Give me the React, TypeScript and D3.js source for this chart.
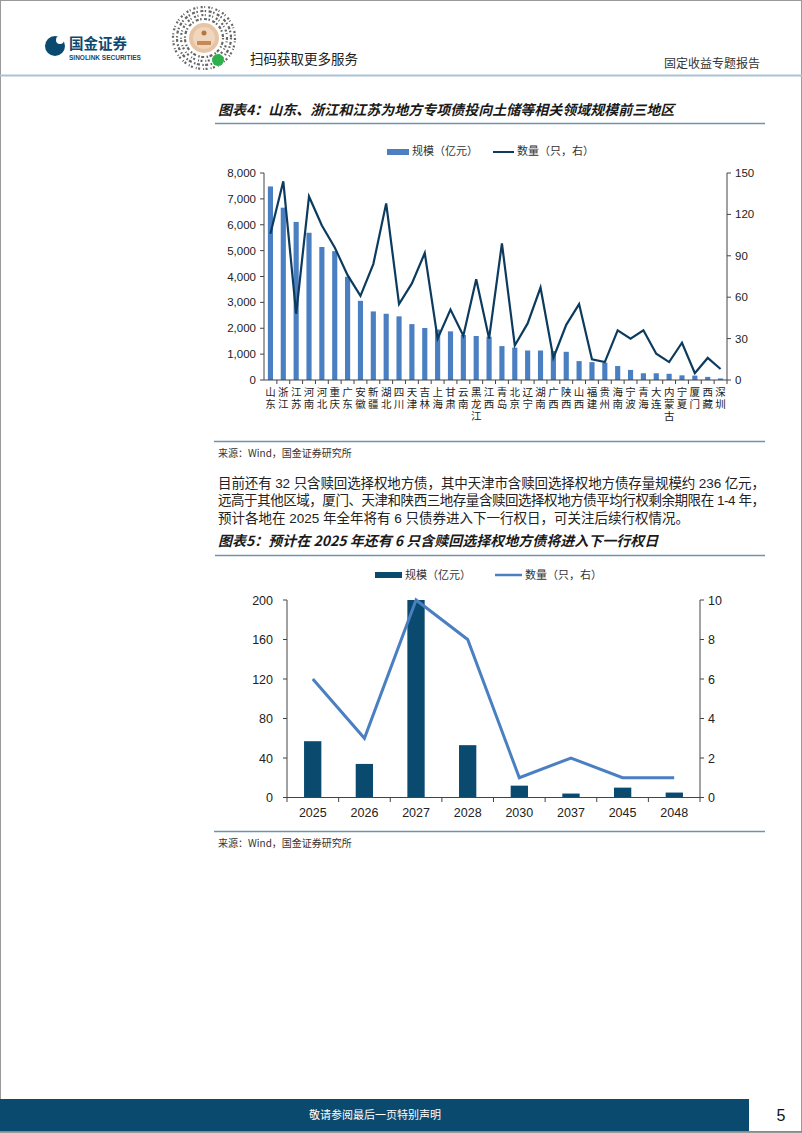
import React from "react";
import * as d3 from "d3";

const regions = ["山东","浙江","江苏","河南","河北","重庆","广东","安徽","新疆","湖北","四川","天津","吉林","上海","甘肃","云南","黑龙江","江西","青岛","北京","辽宁","湖南","广西","陕西","山西","福建","贵州","海南","宁波","青海","大连","内蒙古","宁夏","厦门","西藏","深圳"];
const scale1 = [7480,6660,6110,5690,5140,4980,3990,3060,2650,2560,2460,2160,2010,1950,1880,1740,1700,1670,1310,1250,1140,1140,1120,1090,730,690,670,540,390,260,260,240,180,170,120,60];
const count1 = [106,144,48,133,112,96,76,61,84,128,55,70,92,30,51,32,73,30,99,25,41,67,16,40,55,15,13,36,30,36,19,13,27,5,16,8];
const leftTicks1 = [0,1000,2000,3000,4000,5000,6000,7000,8000];
const rightTicks1 = [0,30,60,90,120,150];

const years = ["2025","2026","2027","2028","2030","2037","2045","2048"];
const scale2 = [57,34,200,53,12,4,10,5];
const count2 = [6,3,10,8,1,2,1,1];
const leftTicks2 = [0,40,80,120,160,200];
const rightTicks2 = [0,2,4,6,8,10];

const NAVY = "#0b4a6f";
const BLUE1 = "#4a7fc1";
const LINE1 = "#0d3b5e";
const CJK = "'Noto Sans CJK SC', 'Noto Sans', sans-serif";
const NUM = "'Liberation Sans', Arial, sans-serif";
const PARA = "'Liberation Sans', 'Noto Sans CJK SC', sans-serif";

function Chart1() {
  const x = d3.scaleBand<string>().domain(regions).range([264, 727]).paddingInner(0.6).paddingOuter(0.3);
  const full = d3.scaleBand<string>().domain(regions).range([264, 727]);
  const yL = d3.scaleLinear().domain([0, 8000]).range([380, 173]);
  const yR = d3.scaleLinear().domain([0, 150]).range([380, 173]);
  const line = d3.line<number>()
    .x((_, i) => (full(regions[i]) as number) + full.bandwidth() / 2)
    .y((d) => yR(d));
  const fmt = d3.format(",");
  return (
    <g>
      <rect x={387} y={149} width={22} height={6} fill={BLUE1} />
      <text x={412} y={155} fontSize={11} fontFamily={CJK} fill="#333">规模（亿元）</text>
      <line x1={493} x2={514} y1={152} y2={152} stroke={LINE1} strokeWidth={2} />
      <text x={517} y={155} fontSize={11} fontFamily={CJK} fill="#333">数量（只，右）</text>
      {regions.map((r, i) => (
        <rect key={r} x={x(r)} y={yL(scale1[i])} width={x.bandwidth()} height={380 - yL(scale1[i])} fill={BLUE1} />
      ))}
      <path d={line(count1) || ""} fill="none" stroke={LINE1} strokeWidth={2.2} strokeLinejoin="miter" />
      <line x1={264} x2={264} y1={173} y2={380} stroke="#444" />
      <line x1={727} x2={727} y1={173} y2={380} stroke="#444" />
      <line x1={264} x2={727} y1={380} y2={380} stroke="#444" />
      {leftTicks1.map((t) => (
        <g key={t}>
          <line x1={260} x2={264} y1={yL(t)} y2={yL(t)} stroke="#444" />
          <text x={256} y={yL(t) + 4} fontSize={11.5} fontFamily={NUM} textAnchor="end" fill="#222">{fmt(t)}</text>
        </g>
      ))}
      {rightTicks1.map((t) => (
        <g key={t}>
          <line x1={727} x2={731} y1={yR(t)} y2={yR(t)} stroke="#444" />
          <text x={735} y={yR(t) + 4} fontSize={11.5} fontFamily={NUM} fill="#222">{t}</text>
        </g>
      ))}
      {regions.map((r) => (
        <line key={"t" + r} x1={(full(r) as number) + full.bandwidth()} x2={(full(r) as number) + full.bandwidth()} y1={380} y2={384} stroke="#444" />
      ))}
      {regions.map((r) => (
        <text key={"l" + r} x={(full(r) as number) + full.bandwidth() / 2} y={387}
          fontSize={10.5} fontFamily={CJK} fill="#222"
          style={{ writingMode: "vertical-rl", letterSpacing: "1.5px" } as any}>{r}</text>
      ))}
    </g>
  );
}

function Chart2() {
  const x = d3.scaleBand<string>().domain(years).range([287, 700]).paddingInner(0.665).paddingOuter(0.33);
  const full = d3.scaleBand<string>().domain(years).range([287, 700]);
  const yL = d3.scaleLinear().domain([0, 200]).range([797.5, 600]);
  const yR = d3.scaleLinear().domain([0, 10]).range([797.5, 600]);
  const line = d3.line<number>()
    .x((_, i) => (full(years[i]) as number) + full.bandwidth() / 2)
    .y((d) => yR(d));
  return (
    <g>
      <rect x={375} y={572} width={27} height={6} fill={NAVY} />
      <text x={405} y={579} fontSize={11} fontFamily={CJK} fill="#333">规模（亿元）</text>
      <line x1={495} x2={522} y1={575} y2={575} stroke={BLUE1} strokeWidth={2.5} />
      <text x={525} y={579} fontSize={11} fontFamily={CJK} fill="#333">数量（只，右）</text>
      {years.map((yv, i) => (
        <rect key={yv} x={x(yv)} y={yL(scale2[i])} width={x.bandwidth()} height={797.5 - yL(scale2[i])} fill={NAVY} />
      ))}
      <path d={line(count2) || ""} fill="none" stroke={BLUE1} strokeWidth={3} strokeLinejoin="miter" />
      <line x1={287} x2={287} y1={600} y2={797.5} stroke="#444" />
      <line x1={700} x2={700} y1={600} y2={797.5} stroke="#444" />
      <line x1={287} x2={700} y1={797.5} y2={797.5} stroke="#444" />
      {leftTicks2.map((t) => (
        <g key={t}>
          <line x1={283} x2={287} y1={yL(t)} y2={yL(t)} stroke="#444" />
          <text x={273} y={yL(t) + 4.5} fontSize={12.5} fontFamily={NUM} textAnchor="end" fill="#222">{t}</text>
        </g>
      ))}
      {rightTicks2.map((t) => (
        <g key={t}>
          <line x1={700} x2={704} y1={yR(t)} y2={yR(t)} stroke="#444" />
          <text x={708} y={yR(t) + 4.5} fontSize={12.5} fontFamily={NUM} fill="#222">{t}</text>
        </g>
      ))}
      {years.map((yv) => (
        <line key={"t" + yv} x1={(full(yv) as number) + full.bandwidth()} x2={(full(yv) as number) + full.bandwidth()} y1={797.5} y2={802} stroke="#444" />
      ))}
      <line x1={287} x2={287} y1={797.5} y2={802} stroke="#444" />
      {years.map((yv) => (
        <text key={"l" + yv} x={(full(yv) as number) + full.bandwidth() / 2} y={817} fontSize={12.5} fontFamily={NUM} textAnchor="middle" fill="#222">{yv}</text>
      ))}
    </g>
  );
}

function QR() {
  const cx = 204, cy = 38;
  const rings = [31, 27, 23, 19];
  return (
    <g>
      {rings.map((r, i) => (
        <circle key={r} cx={cx} cy={cy} r={r} fill="none" stroke="#333" strokeWidth={2.2} strokeDasharray={i % 2 ? "1.5 2.5 3 1.5" : "2 1.5 1 3"} opacity={0.75} />
      ))}
      <circle cx={cx} cy={cy} r={15} fill="#e6c4a4" />
      <circle cx={cx} cy={cy} r={11} fill="#efd6bd" />
      <circle cx={cx} cy={cy - 5} r={2.5} fill="#b5763e" />
      <rect x={cx - 7} y={cy + 3} width={14} height={4} fill="#c58a55" />
      <circle cx={218} cy={60} r={6} fill="#2db14b" />
    </g>
  );
}

export default function App() {
  const para = [
    "目前还有 32 只含赎回选择权地方债，其中天津市含赎回选择权地方债存量规模约 236 亿元，",
    "远高于其他区域，厦门、天津和陕西三地存量含赎回选择权地方债平均行权剩余期限在 1-4 年，",
    "预计各地在 2025 年全年将有 6 只债券进入下一行权日，可关注后续行权情况。",
  ];
  return (
    <div style={{ position: "absolute", left: 0, top: 0 }}>
      <svg width={802} height={1133} viewBox="0 0 802 1133" style={{ display: "block", background: "#fff" }}>
        <rect x={0.5} y={0.5} width={801} height={1132} fill="#fff" stroke="#9a9a9a" />
        <circle cx={55} cy={46} r={10} fill={NAVY} />
        <circle cx={60} cy={40} r={4} fill="#fff" />
        <text x={69} y={49} fontSize={14.5} fontWeight="bold" fontFamily={CJK} fill={NAVY}>国金证券</text>
        <text x={69} y={60} fontSize={6.5} fontWeight="bold" fontFamily={NUM} fill={NAVY}>SINOLINK SECURITIES</text>
        <QR />
        <text x={250} y={64} fontSize={13.5} fontFamily={CJK} fill="#222">扫码获取更多服务</text>
        <text x={760} y={68} fontSize={12} fontFamily={CJK} fill="#333" textAnchor="end">固定收益专题报告</text>
        <line x1={0} x2={802} y1={75.5} y2={75.5} stroke="#aac2d5" strokeWidth={2} />

        <text x={218} y={115} fontSize={14} fontWeight="bold" fontStyle="italic" fontFamily={CJK} fill="#1a1a1a">图表4：山东、浙江和江苏为地方专项债投向土储等相关领域规模前三地区</text>
        <line x1={215} x2={765} y1={123.5} y2={123.5} stroke="#6f93ae" strokeWidth={1.5} />
        <Chart1 />
        <line x1={214} x2={765} y1={441.5} y2={441.5} stroke="#6f93ae" strokeWidth={1.5} />
        <text x={218} y={457} fontSize={10} fontFamily={CJK} fill="#333">来源：Wind，国金证券研究所</text>

        {para.map((p, i) => (
          <text key={i} x={218} y={488 + i * 17.3} fontSize={13.5} fontFamily={PARA} fill="#222"
            textLength={i < 2 ? 547 : undefined} lengthAdjust="spacing">{p}</text>
        ))}

        <text x={218} y={546} fontSize={14} fontWeight="bold" fontStyle="italic" fontFamily={CJK} fill="#1a1a1a">图表5：预计在 2025 年还有 6 只含赎回选择权地方债将进入下一行权日</text>
        <line x1={215} x2={765} y1={555.5} y2={555.5} stroke="#6f93ae" strokeWidth={1.5} />
        <Chart2 />
        <line x1={214} x2={765} y1={831.5} y2={831.5} stroke="#6f93ae" strokeWidth={1.5} />
        <text x={218} y={847} fontSize={10} fontFamily={CJK} fill="#333">来源：Wind，国金证券研究所</text>

        <rect x={0} y={1099} width={749} height={32} fill={NAVY} />
        <text x={375} y={1119} fontSize={11} fontFamily={CJK} fill="#fff" textAnchor="middle">敬请参阅最后一页特别声明</text>
        <text x={781} y={1121} fontSize={16} fontFamily={NUM} fill="#111" textAnchor="middle">5</text>
        <line x1={0} x2={802} y1={1131.5} y2={1131.5} stroke="#888" />
      </svg>
    </div>
  );
}
